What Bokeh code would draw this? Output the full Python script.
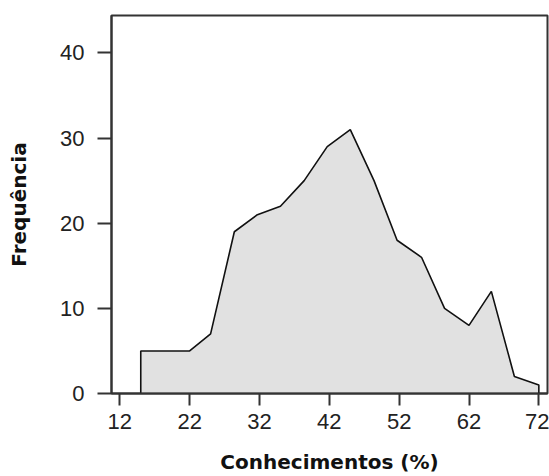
from bokeh.plotting import figure
from bokeh.models import Range1d, FixedTicker
from bokeh.embed import file_html
from bokeh.resources import INLINE

# Frequency polygon of knowledge scores
pct = [15, 18.5, 22, 25, 28.4, 31.7, 35, 38.4, 41.7, 45, 48.4, 51.7, 55.2, 58.5, 62, 65.2, 68.5, 72]
freq = [5, 5, 5, 7, 19, 21, 22, 25, 29, 31, 25, 18, 16, 10, 8, 12, 2, 1]
x_ticks = [12, 22, 32, 42, 52, 62, 72]
y_ticks = [0, 10, 20, 30, 40]
x_title = "Conhecimentos (%)"
y_title = "Frequência"

p = figure(width=549, height=476, output_backend="svg", toolbar_location=None,
           x_range=Range1d(10.81, 73.24), y_range=Range1d(0, 44.4),
           min_border_left=111, min_border_right=2, min_border_top=15, min_border_bottom=82)

p.background_fill_color = "white"
p.border_fill_color = "white"
p.grid.visible = False
p.outline_line_color = "#333333"
p.outline_line_width = 2

# closed polygon down to the baseline at both ends
xs = [pct[0]] + pct + [pct[-1]]
ys = [0] + freq + [0]
p.patch(xs, ys, fill_color="#e1e1e1", line_color="#111111", line_width=1.6)

for ax in (p.xaxis[0], p.yaxis[0]):
    ax.axis_line_color = "#333333"
    ax.axis_line_width = 2
    ax.major_tick_line_color = "#333333"
    ax.major_tick_line_width = 2
    ax.major_tick_in = 0
    ax.minor_tick_line_color = None
    ax.major_label_text_font = "Liberation Sans"
    ax.major_label_text_font_size = "22px"
    ax.major_label_text_color = "#222222"
    ax.axis_label_text_font = "DejaVu Sans"
    ax.axis_label_text_font_style = "bold"
    ax.axis_label_text_font_size = "20px"
    ax.axis_label_text_color = "#111111"

p.xaxis.ticker = FixedTicker(ticks=x_ticks)
p.yaxis.ticker = FixedTicker(ticks=y_ticks)
p.xaxis.major_tick_out = 12
p.yaxis.major_tick_out = 14
p.xaxis.major_label_standoff = 8
p.yaxis.major_label_standoff = 13
p.xaxis.axis_label = x_title
p.yaxis.axis_label = y_title
p.xaxis.axis_label_standoff = 18
p.yaxis.axis_label_standoff = 26

open("out.html", "w").write(file_html(p, INLINE))
